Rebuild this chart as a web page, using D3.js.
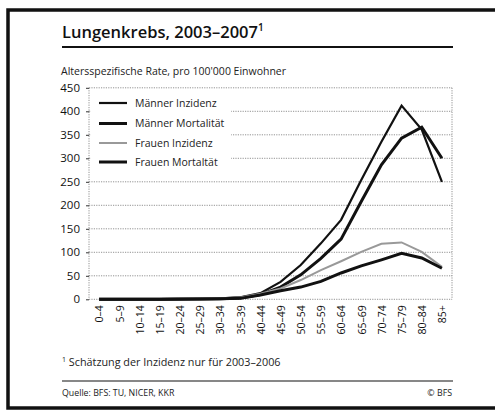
<!DOCTYPE html>
<html>
<head>
<meta charset="utf-8">
<script src="https://cdn.jsdelivr.net/npm/d3@7"></script>
<style>
  body { margin: 0; background: #fff; }
  svg { display: block; font-family: "Open Sans", "Noto Sans", sans-serif; }
</style>
</head>
<body>
<div id="viz"></div>
<script>
// age groups on the x axis
const ageGroups = ["0–4", "5–9", "10–14", "15–19", "20–24", "25–29", "30–34", "35–39", "40–44",
  "45–49", "50–54", "55–59", "60–64", "65–69", "70–74", "75–79", "80–84", "85+"];

// rates per 100'000
const maennerInzidenz   = [0, 0, 0, 0.5, 1, 1, 2, 4, 13, 37, 73, 119, 169, 254, 335, 412, 361, 250];
const maennerMortalitaet = [0, 0, 0, 0, 0.5, 0.5, 1, 3, 10, 26, 52, 87, 128, 208, 286, 343, 366, 300];
const frauenInzidenz    = [0, 0, 0, 0.5, 1, 1, 2, 4, 12, 23, 41, 62, 81, 101, 118, 121, 101, 69];
const frauenMortalitaet = [0, 0, 0, 0, 0, 0.5, 1, 2, 9, 18, 26, 38, 56, 71, 84, 98, 88, 66];

const yTicks = [0, 50, 100, 150, 200, 250, 300, 350, 400, 450];

const seriesNames = ["Männer Inzidenz", "Männer Mortalität", "Frauen Inzidenz", "Frauen Mortaltät"];

const W = 495, H = 415;
const svg = d3.select("#viz").append("svg").attr("width", W).attr("height", H);

// outer frame
svg.append("rect")
  .attr("x", 8).attr("y", 10).attr("width", 492).attr("height", 398)
  .attr("fill", "none").attr("stroke", "#111").attr("stroke-width", 3.5);

// title + rule
svg.append("text")
  .attr("x", 62).attr("y", 38)
  .attr("font-size", 16.5).attr("font-weight", 600).attr("fill", "#111")
  .html("Lungenkrebs, 2003–2007<tspan font-size='10' dy='-7'>1</tspan>");
svg.append("line")
  .attr("x1", 62).attr("x2", 453).attr("y1", 47).attr("y2", 47)
  .attr("stroke", "#111").attr("stroke-width", 1.8);

svg.append("text")
  .attr("x", 61).attr("y", 75)
  .attr("font-size", 10.5).attr("fill", "#222")
  .text("Altersspezifische Rate, pro 100'000 Einwohner");

// scales
const plot = {left: 89, right: 452, top: 87.8, bottom: 299.3};
const x = d3.scalePoint().domain(ageGroups).range([plot.left, plot.right]).padding(0.5);
const y = d3.scaleLinear().domain([0, 450]).range([plot.bottom, plot.top]);

const g = svg.append("g");

// grid (dotted)
g.selectAll(".grid")
  .data(yTicks)
  .join("line")
  .attr("x1", plot.left).attr("x2", plot.right)
  .attr("y1", d => y(d)).attr("y2", d => y(d))
  .attr("stroke", "#777").attr("stroke-width", 0.8)
  .attr("stroke-dasharray", "1.2,1.2");

// left and right frame lines
[plot.left, plot.right].forEach(px => {
  g.append("line")
    .attr("x1", px).attr("x2", px).attr("y1", plot.top).attr("y2", plot.bottom)
    .attr("stroke", "#777").attr("stroke-width", 0.8)
    .attr("stroke-dasharray", "1.2,1.2");
});

// y axis
const yAxis = g.append("g")
  .attr("transform", `translate(${plot.left},0)`)
  .call(d3.axisLeft(y).tickValues(yTicks).tickSize(3).tickPadding(6));
yAxis.select(".domain").remove();
yAxis.selectAll(".tick line").attr("stroke", "#333");
yAxis.selectAll(".tick text")
  .attr("font-size", 11.5).attr("fill", "#111")
  .attr("font-family", "'Open Sans', 'Noto Sans', sans-serif");

// x axis labels, rotated
const xAxis = g.append("g")
  .attr("transform", `translate(0,${plot.bottom})`)
  .call(d3.axisBottom(x).tickSize(0).tickPadding(0));
xAxis.select(".domain").remove();
xAxis.selectAll(".tick text")
  .attr("font-size", 10.5).attr("fill", "#111")
  .attr("font-family", "'Open Sans', 'Noto Sans', sans-serif")
  .attr("text-anchor", "end")
  .attr("dy", null)
  .attr("transform", "translate(3.8,6) rotate(-90)")
  .attr("x", 0).attr("y", 0);

// lines
const seriesData = [maennerInzidenz, maennerMortalitaet, frauenInzidenz, frauenMortalitaet];
const strokes = ["#111", "#111", "#999", "#111"];
const widths = [2.2, 3, 2, 3];

const line = d3.line()
  .x((d, i) => x(ageGroups[i]))
  .y(d => y(d));

// legend background covers grid
const legend = g.append("g");
legend.append("rect")
  .attr("x", 91).attr("y", 92).attr("width", 140).attr("height", 78)
  .attr("fill", "#fff");

g.selectAll(".series")
  .data(seriesData)
  .join("path")
  .attr("fill", "none")
  .attr("stroke", (d, i) => strokes[i])
  .attr("stroke-width", (d, i) => widths[i])
  .attr("stroke-linejoin", "miter")
  .attr("d", line);

const legendY = [103, 123.5, 143, 162];
seriesNames.forEach((name, i) => {
  legend.append("line")
    .attr("x1", 99).attr("x2", 127)
    .attr("y1", legendY[i]).attr("y2", legendY[i])
    .attr("stroke", strokes[i]).attr("stroke-width", widths[i]);
  legend.append("text")
    .attr("x", 135).attr("y", legendY[i] + 3.8)
    .attr("font-size", 10.5).attr("fill", "#222")
    .text(name);
});

// footnote + source
svg.append("text")
  .attr("x", 62).attr("y", 366)
  .attr("font-size", 10.8).attr("fill", "#222")
  .html("<tspan font-size='7' dy='-4'>1</tspan><tspan dy='4'> Schätzung der Inzidenz nur für 2003–2006</tspan>");

svg.append("line")
  .attr("x1", 62).attr("x2", 453).attr("y1", 381).attr("y2", 381)
  .attr("stroke", "#111").attr("stroke-width", 1.2);

svg.append("text")
  .attr("x", 62).attr("y", 396)
  .attr("font-size", 8.8).attr("fill", "#222")
  .text("Quelle: BFS: TU, NICER, KKR");

svg.append("text")
  .attr("x", 452).attr("y", 396)
  .attr("text-anchor", "end")
  .attr("font-size", 8.8).attr("fill", "#222")
  .text("© BFS");
</script>
</body>
</html>
